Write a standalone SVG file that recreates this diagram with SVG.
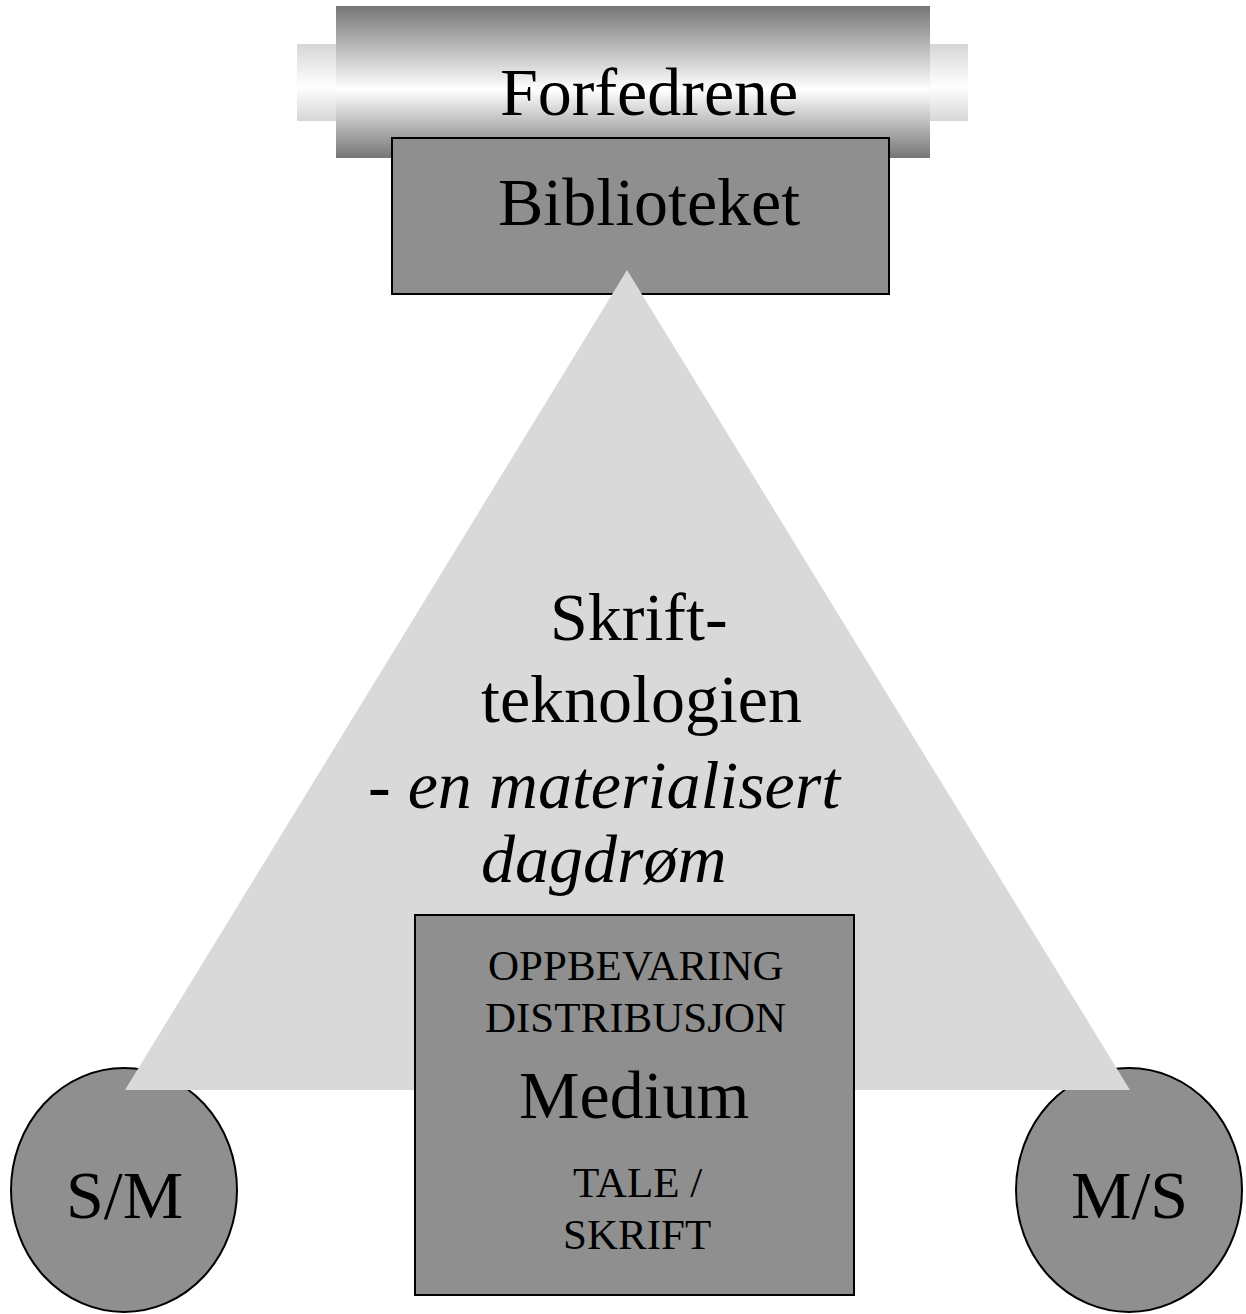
<svg xmlns="http://www.w3.org/2000/svg" width="1246" height="1314" viewBox="0 0 1246 1314">
<defs>
<linearGradient id="gCore" x1="0" y1="0" x2="0" y2="1">
<stop offset="0" stop-color="#767676"/>
<stop offset="0.55" stop-color="#ffffff"/>
<stop offset="1" stop-color="#767676"/>
</linearGradient>
<linearGradient id="gSide" x1="0" y1="0" x2="0" y2="1">
<stop offset="0" stop-color="#d6d6d6"/>
<stop offset="0.55" stop-color="#ffffff"/>
<stop offset="1" stop-color="#d6d6d6"/>
</linearGradient>
<style>
.t{font-family:"Liberation Serif","Times New Roman",serif;fill:#000}
.big{font-size:68px}
.sm{font-size:43px}
.it{font-style:italic}
.box{fill:#8f8f8f;stroke:#000;stroke-width:2}
</style>
</defs>
<rect width="1246" height="1314" fill="#fff"/>
<g id="forfedrene">
<rect x="297" y="44" width="671" height="77" fill="url(#gSide)"/>
<rect x="336" y="6" width="594" height="152" fill="url(#gCore)"/>
<text class="t big" x="500" y="115">Forfedrene</text>
</g>
<g id="biblioteket">
<rect class="box" x="392" y="138" width="497" height="156"/>
<text class="t big" x="498" y="225">Biblioteket</text>
</g>
<g id="sm">
<ellipse class="box" cx="124" cy="1190" rx="113" ry="122"/>
<text class="t big" x="66" y="1218">S/M</text>
</g>
<g id="ms">
<ellipse class="box" cx="1129" cy="1190" rx="113" ry="122"/>
<text class="t big" x="1071" y="1218">M/S</text>
</g>
<g id="skriftteknologien">
<polygon points="627,270 1130,1090 125,1090" fill="#d9d9d9"/>
<text class="t big" x="550" y="640">Skrift-</text>
<text class="t big" x="481" y="722">teknologien</text>
<text class="t big" x="368" y="808">- <tspan class="it">en materialisert</tspan></text>
<text class="t big it" x="481" y="882">dagdrøm</text>
</g>
<g id="medium">
<rect class="box" x="415" y="915" width="439" height="380"/>
<text class="t sm" x="488" y="980">OPPBEVARING</text>
<text class="t sm" x="485" y="1032">DISTRIBUSJON</text>
<text class="t big" x="519" y="1118">Medium</text>
<text class="t sm" x="573" y="1197">TALE /</text>
<text class="t sm" x="563" y="1249">SKRIFT</text>
</g>
<g id="connectors"/>
</svg>
